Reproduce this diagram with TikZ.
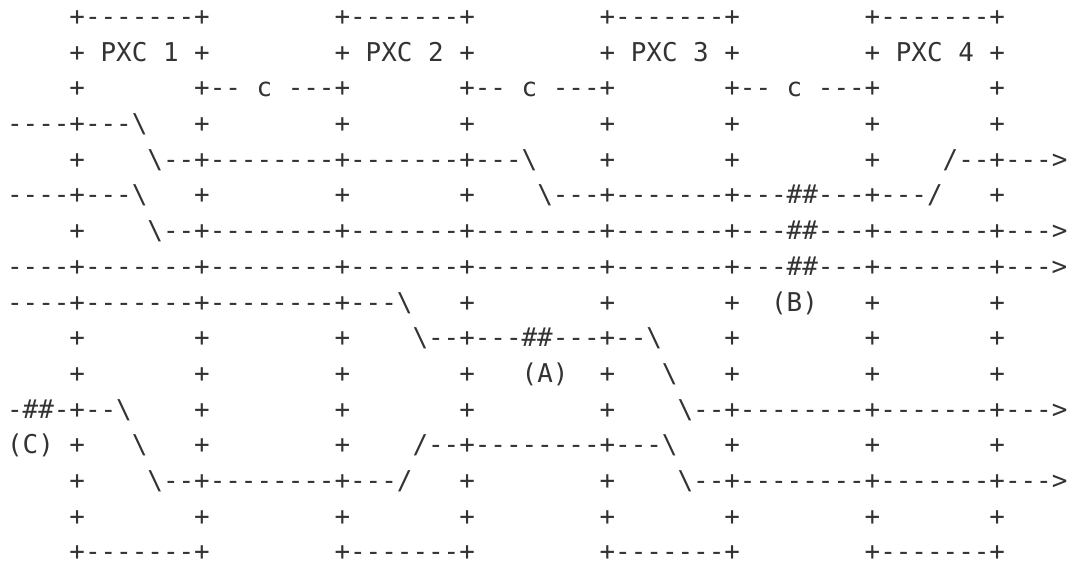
\documentclass[tikz,border=0pt]{standalone}
\usepackage{fontspec}
\newfontfamily\asciifont{DejaVu Sans Mono}[Ligatures=TeXOff]
\definecolor{ink}{HTML}{333333}
\newcommand\gap[1]{\hskip#1\fontcharwd\font`0\relax}
\newcommand\bs{\char92\relax}
\newcommand\hh{\char35\char35\relax}
\tikzset{asciiline/.style={anchor=base west, inner sep=0pt, outer sep=0pt, text=ink,
  font=\asciifont\fontsize{25.9}{36}\selectfont}}
\begin{document}
\begin{tikzpicture}[x=1pt,y=-1pt]
\useasboundingbox (0,0) rectangle (1069,563);
\node[asciiline] (l0) at (7.1,25.4) {\gap{4}+-------+\gap{8}+-------+\gap{8}+-------+\gap{8}+-------+};
\node[asciiline] (l1) at (7.1,61.1) {\gap{4}+\gap{1}PXC\gap{1}1\gap{1}+\gap{8}+\gap{1}PXC\gap{1}2\gap{1}+\gap{8}+\gap{1}PXC\gap{1}3\gap{1}+\gap{8}+\gap{1}PXC\gap{1}4\gap{1}+};
\node[asciiline] (l2) at (7.1,96.8) {\gap{4}+\gap{7}+--\gap{1}c\gap{1}---+\gap{7}+--\gap{1}c\gap{1}---+\gap{7}+--\gap{1}c\gap{1}---+\gap{7}+};
\node[asciiline] (l3) at (7.1,132.5) {----+---\bs\gap{3}+\gap{8}+\gap{7}+\gap{8}+\gap{7}+\gap{8}+\gap{7}+};
\node[asciiline] (l4) at (7.1,168.2) {\gap{4}+\gap{4}\bs--+--------+-------+---\bs\gap{4}+\gap{7}+\gap{8}+\gap{4}/--+---\char62};
\node[asciiline] (l5) at (7.1,203.9) {----+---\bs\gap{3}+\gap{8}+\gap{7}+\gap{4}\bs---+-------+---\hh---+---/\gap{3}+};
\node[asciiline] (l6) at (7.1,239.6) {\gap{4}+\gap{4}\bs--+--------+-------+--------+-------+---\hh---+-------+---\char62};
\node[asciiline] (l7) at (7.1,275.3) {----+-------+--------+-------+--------+-------+---\hh---+-------+---\char62};
\node[asciiline] (l8) at (7.1,311.0) {----+-------+--------+---\bs\gap{3}+\gap{8}+\gap{7}+\gap{2}(B)\gap{3}+\gap{7}+};
\node[asciiline] (l9) at (7.1,346.7) {\gap{4}+\gap{7}+\gap{8}+\gap{4}\bs--+---\hh---+--\bs\gap{4}+\gap{8}+\gap{7}+};
\node[asciiline] (l10) at (7.1,382.4) {\gap{4}+\gap{7}+\gap{8}+\gap{7}+\gap{3}(A)\gap{2}+\gap{3}\bs\gap{3}+\gap{8}+\gap{7}+};
\node[asciiline] (l11) at (7.1,418.1) {-\hh-+--\bs\gap{4}+\gap{8}+\gap{7}+\gap{8}+\gap{4}\bs--+--------+-------+---\char62};
\node[asciiline] (l12) at (7.1,453.8) {(C)\gap{1}+\gap{3}\bs\gap{3}+\gap{8}+\gap{4}/--+--------+---\bs\gap{3}+\gap{8}+\gap{7}+};
\node[asciiline] (l13) at (7.1,489.5) {\gap{4}+\gap{4}\bs--+--------+---/\gap{3}+\gap{8}+\gap{4}\bs--+--------+-------+---\char62};
\node[asciiline] (l14) at (7.1,525.2) {\gap{4}+\gap{7}+\gap{8}+\gap{7}+\gap{8}+\gap{7}+\gap{8}+\gap{7}+};
\node[asciiline] (l15) at (7.1,560.9) {\gap{4}+-------+\gap{8}+-------+\gap{8}+-------+\gap{8}+-------+};
\end{tikzpicture}
\end{document}
